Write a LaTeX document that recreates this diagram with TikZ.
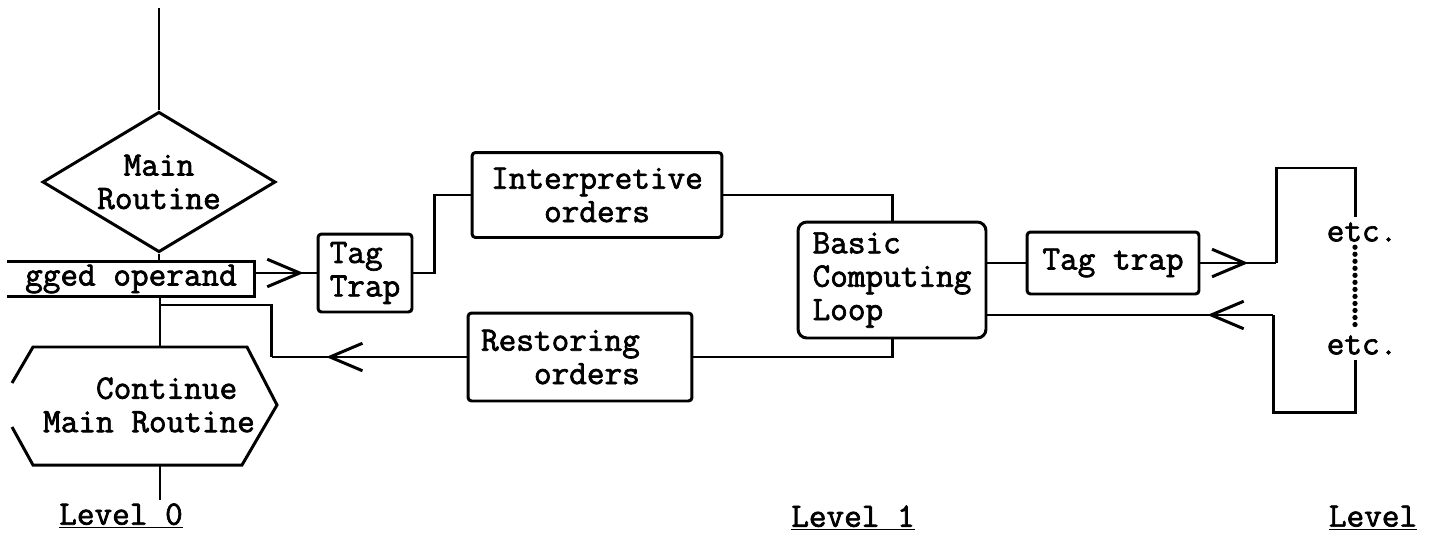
\documentclass[tikz,border=0pt]{standalone}
\usepackage{fontspec}
\setmonofont{Latin Modern Mono}[AutoFakeBold=2]
\usetikzlibrary{shapes.geometric, arrows.meta, decorations.markings}

\newcommand{\typer}{\fontsize{19.5}{19}\selectfont\ttfamily\bfseries}

\tikzset{
  flow/.style={line width=1.7pt},
  box/.style={draw, line width=1.7pt, rounded corners=2pt, inner sep=0pt, align=center, font=\typer},
  barb/.style={postaction={decorate}, decoration={markings,
      mark=at position #1 with {\arrow[line width=1.7pt]{Straight Barb[length=6.5mm, width=5.5mm]}}}},
  lvl/.style={font=\typer, inner sep=0pt}
}

\begin{document}
\begin{tikzpicture}[x=0.02cm, y=-0.02cm]
\useasboundingbox (0,0) rectangle (1439,541);

% level 0: main routine
\coordinate (entry) at (159,8);
\node[box, shape=diamond, aspect=1.66, inner sep=2pt, rounded corners=0pt] (main) at (159,182) {Main\\Routine};
\node[font=\typer, inner sep=0pt, minimum width=4.94cm, minimum height=0.68cm] (op) at (131,279) {gged operand};
\draw[flow] (op.north west) -- (op.north east) -- (op.south east) -- (op.south west);
\draw[flow] (entry) -- (main.north);
\draw[flow] (main.south) -- (main.south |- op.north);

\node[font=\typer, align=left] (cont) at (149,405) {\hphantom{Mai}Continue\\Main Routine};
\draw[flow] (12,383) -- (33,347) -- (247,347) -- (277,405) -- (242,465) -- (33,465) -- (12,427);
\coordinate (split) at (160,305);
\coordinate (contTop) at (160,347);
\coordinate (contBot) at (160,465);
\coordinate (exit) at (160,500);
\draw[flow] (op.south -| split) -- (contTop);
\draw[flow] (contBot) -- (exit);

% level 1: interpretive loop
\node[box, minimum width=1.88cm, minimum height=1.56cm, align=left] (tagA) at (365,273) {Tag\\Trap};
\node[box, minimum width=5cm, minimum height=1.7cm] (interp) at (597,195) {Interpretive\\orders};
\node[box, minimum width=4.48cm, minimum height=1.76cm, align=left, text width=3.96cm] (restore) at (580,357) {Restoring\\\hphantom{Res}orders};
\node[box, rounded corners=5pt, minimum width=3.76cm, minimum height=2.32cm, align=left] (basic) at (892,280) {Basic\\Computing\\Loop};

\draw[flow, barb=0.79] (op.east |- tagA.west) -- (tagA.west);
\draw[flow] (tagA.east) -- ++(21,0) |- (interp.west);
\draw[flow] (interp.east) -| (basic.north);
\draw[flow] (basic.south) |- (restore.east);
\draw[flow, barb=0.72] (restore.west) -- ++(-195,0) coordinate (back);
\draw[flow] (back) |- (split);

% level 2 and beyond
\node[box, minimum width=3.44cm, minimum height=1.24cm] (tagB) at (1113,263) {Tag trap};
\node[font=\typer, inner sep=3pt] (etcA) at (1362,232) {etc.};
\node[font=\typer, inner sep=3pt] (etcB) at (1362,345) {etc.};
\coordinate (etcTop) at (1355,168);
\coordinate (etcBot) at (1355,412);
\coordinate (retB) at (1273,315);

\draw[flow] (basic.east |- tagB.west) -- (tagB.west);
\draw[flow, barb=0.63] (tagB.east) -- ++(76,0) coordinate (outB);
\draw[flow] (outB) |- (etcTop) -- (etcTop |- etcA.north);
\draw[line width=3pt, line cap=round, dash pattern=on 0pt off 4pt] (etcTop |- etcA.south) -- (etcTop |- etcB.north);
\draw[flow] (etcTop |- etcB.south) -- (etcBot) -| (retB);
\draw[flow, barb=0.23] (retB) -- (retB -| basic.east);

% level labels
\node[lvl] (lvl0) at (121,516) {\underline{Level 0}};
\node[lvl] (lvl1) at (853,518) {\underline{Level 1}};
\node[lvl] (lvl2) at (1373,518) {\underline{Level}};
\end{tikzpicture}
\end{document}
